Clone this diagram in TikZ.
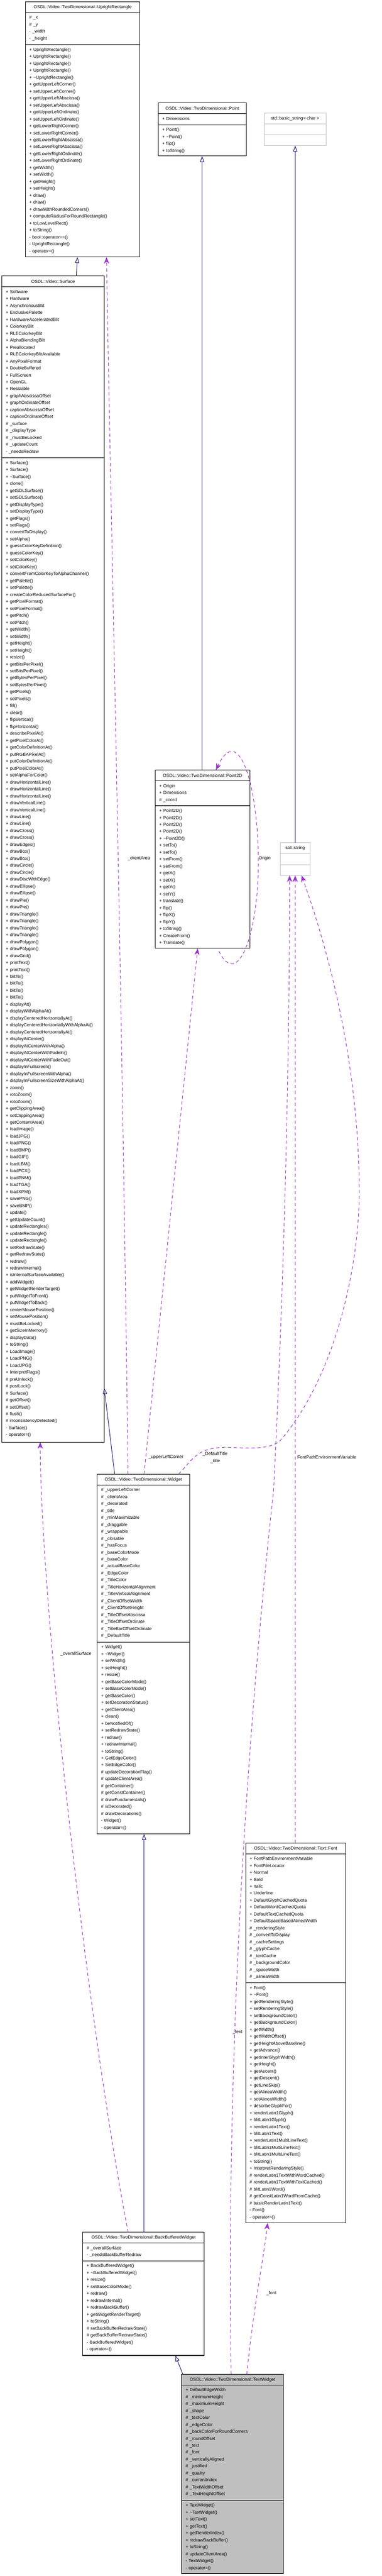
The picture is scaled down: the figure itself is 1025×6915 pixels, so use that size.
\documentclass[tikz,border=0pt]{standalone}
\usepackage{fontspec}
\setmainfont{Liberation Sans}
\usepackage{tikz}
\usetikzlibrary{arrows.meta}
\definecolor{inhblue}{HTML}{191970}
\definecolor{usepurple}{HTML}{9A32CD}
\tikzset{
  boxtext/.style={anchor=north west,align=left,text width=3cm,inner sep=0pt,font=\fontsize{3.4pt}{5.3pt}\selectfont},
  boxtitle/.style={inner sep=0pt,font=\fontsize{3.4pt}{5.3pt}\selectfont},
  inherit/.style={draw=inhblue,-{Triangle[open,length=4.5pt,width=3.2pt]}},
  uses/.style={draw=usepurple,dashed,dash pattern=on 2.5pt off 2pt,-{Stealth[length=5pt,width=4pt,inset=1.5pt]}},
  edgelabel/.style={font=\fontsize{3.4pt}{5.3pt}\selectfont,inner sep=0pt}
}
% #1 style, #2 x1, #3 x2, #4 top, #5 attribute bottom, #6 title, #7 bottom, #8 attributes, #9 methods
\newcommand{\umlbox}[9][]{%
  \draw[#1] (#2,#4) rectangle (#3,#7);
  \draw[#1] (#2,#4+29) -- (#3,#4+29);
  \draw[#1] (#2,#5) -- (#3,#5);
  \node[boxtitle] at ({(#2+#3)/2},#4+15) {#6};
  \node[boxtext] at (#2+10,#4+29+8) {#8};
  \node[boxtext] at (#2+10,#5+8) {#9};}
\begin{document}
\begin{tikzpicture}[x=0.01cm,y=-0.01cm]
\useasboundingbox (0,0) rectangle (1025,6915);
\umlbox{68}{376}{5}{120}{OSDL::Video::TwoDimensional::UprightRectangle}{690}%
{\# \_x\\\# \_y\\- \_width\\- \_height}%
{+ UprightRectangle()\\+ UprightRectangle()\\+ UprightRectangle()\\+ UprightRectangle()\\+ \textasciitilde UprightRectangle()\\+ getUpperLeftCorner()\\+ setUpperLeftCorner()\\+ getUpperLeftAbscissa()\\+ setUpperLeftAbscissa()\\+ getUpperLeftOrdinate()\\+ setUpperLeftOrdinate()\\+ getLowerRightCorner()\\+ setLowerRightCorner()\\+ getLowerRightAbscissa()\\+ setLowerRightAbscissa()\\+ getLowerRightOrdinate()\\+ setLowerRightOrdinate()\\+ getWidth()\\+ setWidth()\\+ getHeight()\\+ setHeight()\\+ draw()\\+ draw()\\+ drawWithRoundedCorners()\\+ computeRadiusForRoundRectangle()\\+ toLowLevelRect()\\+ toString()\\- bool::operator==()\\- UprightRectangle()\\- operator=()}
\umlbox{425}{662}{276}{335}{OSDL::Video::TwoDimensional::Point}{419}%
{+ Dimensions}{+ Point()\\+ \textasciitilde Point()\\+ flip()\\+ toString()}
\umlbox[draw=gray!50]{710}{876}{304}{362}{std::basic\_string< char >}{391}{}{}
\umlbox{5}{280}{741}{1229}{OSDL::Video::Surface}{3871}%
{+ Software\\+ Hardware\\+ AsynchronousBlit\\+ ExclusivePalette\\+ HardwareAcceleratedBlit\\+ ColorkeyBlit\\+ RLEColorkeyBlit\\+ AlphaBlendingBlit\\+ Preallocated\\+ RLEColorkeyBlitAvailable\\+ AnyPixelFormat\\+ DoubleBuffered\\+ FullScreen\\+ OpenGL\\+ Resizable\\+ graphAbscissaOffset\\+ graphOrdinateOffset\\+ captionAbscissaOffset\\+ captionOrdinateOffset\\\# \_surface\\\# \_displayType\\\# \_mustBeLocked\\\# \_updateCount\\- \_needsRedraw}%
{+ Surface()\\+ Surface()\\+ \textasciitilde Surface()\\+ clone()\\+ getSDLSurface()\\+ setSDLSurface()\\+ getDisplayType()\\+ setDisplayType()\\+ getFlags()\\+ setFlags()\\+ convertToDisplay()\\+ setAlpha()\\+ guessColorKeyDefinition()\\+ guessColorKey()\\+ setColorKey()\\+ setColorKey()\\+ convertFromColorKeyToAlphaChannel()\\+ getPalette()\\+ setPalette()\\+ createColorReducedSurfaceFor()\\+ getPixelFormat()\\+ setPixelFormat()\\+ getPitch()\\+ setPitch()\\+ getWidth()\\+ setWidth()\\+ getHeight()\\+ setHeight()\\+ resize()\\+ getBitsPerPixel()\\+ setBitsPerPixel()\\+ getBytesPerPixel()\\+ setBytesPerPixel()\\+ getPixels()\\+ setPixels()\\+ fill()\\+ clear()\\+ flipVertical()\\+ flipHorizontal()\\+ describePixelAt()\\+ getPixelColorAt()\\+ getColorDefinitionAt()\\+ putRGBAPixelAt()\\+ putColorDefinitionAt()\\+ putPixelColorAt()\\+ setAlphaForColor()\\+ drawHorizontalLine()\\+ drawHorizontalLine()\\+ drawHorizontalLine()\\+ drawVerticalLine()\\+ drawVerticalLine()\\+ drawLine()\\+ drawLine()\\+ drawCross()\\+ drawCross()\\+ drawEdges()\\+ drawBox()\\+ drawBox()\\+ drawCircle()\\+ drawCircle()\\+ drawDiscWithEdge()\\+ drawEllipse()\\+ drawEllipse()\\+ drawPie()\\+ drawPie()\\+ drawTriangle()\\+ drawTriangle()\\+ drawTriangle()\\+ drawTriangle()\\+ drawPolygon()\\+ drawPolygon()\\+ drawGrid()\\+ printText()\\+ printText()\\+ blitTo()\\+ blitTo()\\+ blitTo()\\+ blitTo()\\+ displayAt()\\+ displayWithAlphaAt()\\+ displayCenteredHorizontallyAt()\\+ displayCenteredHorizontallyWithAlphaAt()\\+ displayCenteredHorizontallyAt()\\+ displayAtCenter()\\+ displayAtCenterWithAlpha()\\+ displayAtCenterWithFadeIn()\\+ displayAtCenterWithFadeOut()\\+ displayInFullscreen()\\+ displayInFullscreenWithAlpha()\\+ displayInFullscreenSizeWithAlphaAt()\\+ zoom()\\+ rotoZoom()\\+ rotoZoom()\\+ getClippingArea()\\+ setClippingArea()\\+ getContentArea()\\+ loadImage()\\+ loadJPG()\\+ loadPNG()\\+ loadBMP()\\+ loadGIF()\\+ loadLBM()\\+ loadPCX()\\+ loadPNM()\\+ loadTGA()\\+ loadXPM()\\+ savePNG()\\+ saveBMP()\\+ update()\\+ getUpdateCount()\\+ updateRectangles()\\+ updateRectangle()\\+ updateRectangle()\\+ setRedrawState()\\+ getRedrawState()\\+ redraw()\\+ redrawInternal()\\+ isInternalSurfaceAvailable()\\+ addWidget()\\+ getWidgetRenderTarget()\\+ putWidgetToFront()\\+ putWidgetToBack()\\+ centerMousePosition()\\+ setMousePosition()\\+ mustBeLocked()\\+ getSizeInMemory()\\+ displayData()\\+ toString()\\+ LoadImage()\\+ LoadPNG()\\+ LoadJPG()\\+ InterpretFlags()\\\# preUnlock()\\\# postLock()\\\# Surface()\\\# getOffset()\\\# setOffset()\\\# flush()\\\# inconsistencyDetected()\\- Surface()\\- operator=()}
\umlbox{417}{671}{2067}{2163}{OSDL::Video::TwoDimensional::Point2D}{2546}%
{+ Origin\\+ Dimensions\\\# \_coord}%
{+ Point2D()\\+ Point2D()\\+ Point2D()\\+ Point2D()\\+ \textasciitilde Point2D()\\+ setTo()\\+ setTo()\\+ setFrom()\\+ setFrom()\\+ getX()\\+ setX()\\+ getY()\\+ setY()\\+ translate()\\+ flip()\\+ flipX()\\+ flipY()\\+ toString()\\+ CreateFrom()\\+ Translate()}
\umlbox[draw=gray!50]{753}{833}{2262}{2321}{std::string}{2350}{}{}
\umlbox{261}{509}{3957}{4408}{OSDL::Video::TwoDimensional::Widget}{4923}%
{\# \_upperLeftCorner\\\# \_clientArea\\\# \_decorated\\\# \_title\\\# \_minMaximizable\\\# \_draggable\\\# \_wrappable\\\# \_closable\\\# \_hasFocus\\\# \_baseColorMode\\\# \_baseColor\\\# \_actualBaseColor\\\# \_EdgeColor\\\# \_TitleColor\\\# \_TitleHorizontalAlignment\\\# \_TitleVerticalAlignment\\\# \_ClientOffsetWidth\\\# \_ClientOffsetHeight\\\# \_TitleOffsetAbscissa\\\# \_TitleOffsetOrdinate\\\# \_TitleBarOffsetOrdinate\\\# \_DefaultTitle}%
{+ Widget()\\+ \textasciitilde Widget()\\+ setWidth()\\+ setHeight()\\+ resize()\\+ getBaseColorMode()\\+ setBaseColorMode()\\+ getBaseColor()\\+ setDecorationStatus()\\+ getClientArea()\\+ clean()\\+ beNotifiedOf()\\+ setRedrawState()\\+ redraw()\\+ redrawInternal()\\+ toString()\\+ GetEdgeColor()\\+ SetEdgeColor()\\\# updateDecorationFlag()\\\# updateClientArea()\\\# getContainer()\\\# getConstContainer()\\\# drawFundamentals()\\\# isDecorated()\\\# drawDecorations()\\- Widget()\\- operator=()}
\umlbox{660}{928}{4947}{5323}{OSDL::Video::TwoDimensional::Text::Font}{5967}%
{+ FontPathEnvironmentVariable\\+ FontFileLocator\\+ Normal\\+ Bold\\+ Italic\\+ Underline\\+ DefaultGlyphCachedQuota\\+ DefaultWordCachedQuota\\+ DefaultTextCachedQuota\\+ DefaultSpaceBasedAlineaWidth\\\# \_renderingStyle\\\# \_convertToDisplay\\\# \_cacheSettings\\\# \_glyphCache\\\# \_textCache\\\# \_backgroundColor\\\# \_spaceWidth\\\# \_alineaWidth}%
{+ Font()\\+ \textasciitilde Font()\\+ getRenderingStyle()\\+ setRenderingStyle()\\+ setBackgroundColor()\\+ getBackgroundColor()\\+ getWidth()\\+ getWidthOffset()\\+ getHeightAboveBaseline()\\+ getAdvance()\\+ getInterGlyphWidth()\\+ getHeight()\\+ getAscent()\\+ getDescent()\\+ getLineSkip()\\+ getAlineaWidth()\\+ setAlineaWidth()\\+ describeGlyphFor()\\+ renderLatin1Glyph()\\+ blitLatin1Glyph()\\+ renderLatin1Text()\\+ blitLatin1Text()\\+ renderLatin1MultiLineText()\\+ blitLatin1MultiLineText()\\+ blitLatin1MultiLineText()\\+ toString()\\+ InterpretRenderingStyle()\\\# renderLatin1TextWithWordCached()\\\# renderLatin1TextWithTextCached()\\\# blitLatin1Word()\\\# getConstLatin1WordFromCache()\\\# basicRenderLatin1Text()\\- Font()\\- operator=()}
\umlbox{222}{549}{5992}{6069}{OSDL::Video::TwoDimensional::BackBufferedWidget}{6323}%
{\# \_overallSurface\\- \_needsBackBufferRedraw}%
{+ BackBufferedWidget()\\+ \textasciitilde BackBufferedWidget()\\+ resize()\\+ setBaseColorMode()\\+ redraw()\\+ redrawInternal()\\+ redrawBackBuffer()\\+ getWidgetRenderTarget()\\+ toString()\\\# setBackBufferRedrawState()\\\# getBackBufferRedrawState()\\- BackBufferedWidget()\\- operator=()}
\fill[gray!50] (488,6373) rectangle (761,6908);
\umlbox{488}{761}{6373}{6712}{OSDL::Video::TwoDimensional::TextWidget}{6908}%
{+ DefaultEdgeWidth\\\# \_minimumHeight\\\# \_maximumHeight\\\# \_shape\\\# \_textColor\\\# \_edgeColor\\\# \_backColorForRoundCorners\\\# \_roundOffset\\\# \_text\\\# \_font\\\# \_verticallyAligned\\\# \_justified\\\# \_quality\\\# \_currentIndex\\\# \_TextWidthOffset\\\# \_TextHeightOffset}%
{+ TextWidget()\\+ \textasciitilde TextWidget()\\+ setText()\\+ getText()\\+ getRenderIndex()\\+ redrawBackBuffer()\\+ toString()\\\# updateClientArea()\\- TextWidget()\\- operator=()}
% end points of the connectors
\coordinate (uprightS) at (208,690);
\coordinate (uprightU) at (286,690);
\coordinate (surfaceN) at (205,741);
\coordinate (surfaceR) at (280,3726);
\coordinate (surfaceS) at (108,3871);
\coordinate (pointS) at (543,419);
\coordinate (ptwoN) at (543,2067);
\coordinate (ptwoS) at (531,2546);
\coordinate (ptwoL) at (588,2553);
\coordinate (ptwoT) at (580,2067);
\coordinate (basicS) at (793,391);
\coordinate (stringN) at (793,2262);
\coordinate (stringSa) at (778,2350);
\coordinate (stringSb) at (810,2350);
\coordinate (stringSc) at (793,2350);
\coordinate (widgetNa) at (308,3957);
\coordinate (widgetNb) at (344,3957);
\coordinate (widgetNc) at (387,3957);
\coordinate (widgetNd) at (480,3957);
\coordinate (widgetS) at (387,4923);
\coordinate (fontN) at (793,4947);
\coordinate (fontS) at (719,5967);
\coordinate (bbwNa) at (344,5992);
\coordinate (bbwNb) at (387,5992);
\coordinate (bbwS) at (471,6323);
\coordinate (twNa) at (491,6373);
\coordinate (twNb) at (621,6373);
\coordinate (twNc) at (663,6373);
% inheritance
\draw[inherit] (surfaceN) -- (uprightS);
\draw[inherit] (ptwoN) -- (pointS);
\draw[inherit] (stringN) -- (basicS);
\draw[inherit] (widgetNa) -- (surfaceR);
\draw[inherit] (bbwNb) -- (widgetS);
\draw[inherit] (twNa) -- (bbwS);
% usage
\draw[uses] (widgetNb) .. controls (325,2500) and (300,1500) .. (uprightU);
\node[edgelabel] (lclient) at (373,2305) {\_clientArea};
\draw[uses] (ptwoL) .. controls (640,2660) and (696,2500) .. (694,2305) .. controls (692,2100) and (640,1940) .. (ptwoT);
\node[edgelabel] (lorigin) at (711,2305) {Origin};
\draw[uses] (widgetNc) -- (ptwoS);
\node[edgelabel] (lupper) at (446,3912) {\_upperLeftCorner};
\draw[uses] (widgetNd) .. controls (520,3915) and (530,3885) .. (610,3885) .. controls (680,3888) and (720,3890) .. (750,3870) .. controls (900,3700) and (965,3400) .. (965,3200) .. controls (965,2900) and (900,2600) .. (stringSb);
\node[edgelabel] (ltitle) at (578,3903) {\_DefaultTitle};
\node[edgelabel] (ltitleb) at (578,3922) {\_title};
\draw[uses] (fontN) -- (stringSc);
\node[edgelabel] (lfontpath) at (878,3912) {FontPathEnvironmentVariable};
\draw[uses] (twNb) .. controls (605,5400) and (680,4500) .. (735,4000) .. controls (770,3300) and (778,2700) .. (stringSa);
\node[edgelabel] (ltext) at (638,5455) {\_text};
\draw[uses] (bbwNa) .. controls (230,5400) and (110,4300) .. (surfaceS);
\node[edgelabel] (loverall) at (204,4439) {\_overallSurface};
\draw[uses] (twNc) .. controls (680,6200) and (710,6050) .. (fontS);
\node[edgelabel] (lfont) at (729,6156) {\_font};
\end{tikzpicture}
\end{document}
